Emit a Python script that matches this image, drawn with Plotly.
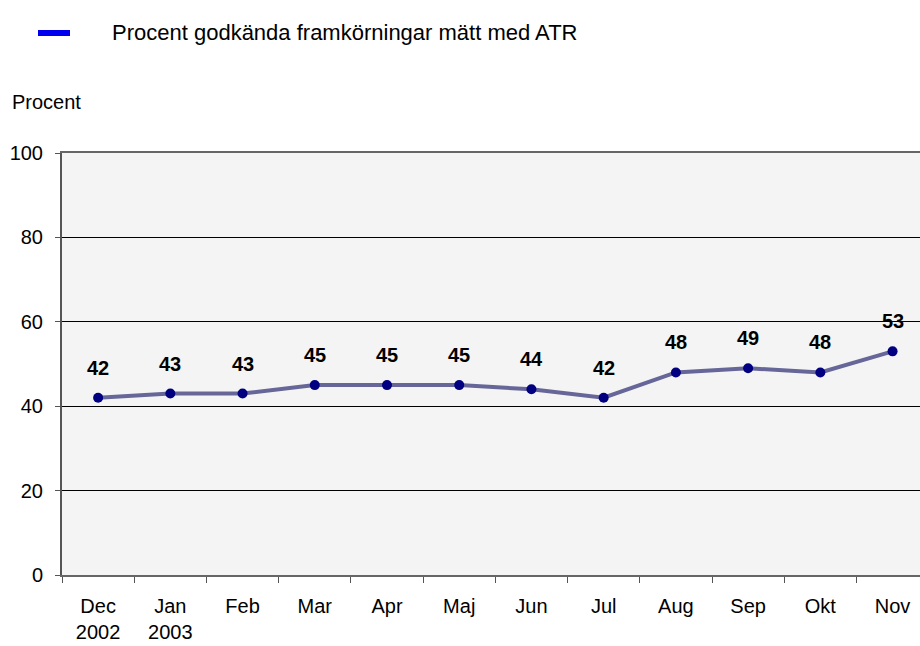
import plotly.graph_objects as go

months = ["Dec<br>2002", "Jan<br>2003", "Feb", "Mar", "Apr", "Maj", "Jun", "Jul", "Aug", "Sep", "Okt", "Nov"]
values = [42, 43, 43, 45, 45, 45, 44, 42, 48, 49, 48, 53]
series_name = "Procent godkända framkörningar mätt med ATR"
y_ticks = [0, 20, 40, 60, 80, 100]

FONT = "Liberation Sans, Arial, sans-serif"
W, H = 920, 646
ml, mr, mt, mb = 62, 0, 153, 71
pw = W - ml - mr
ph = H - mt - mb

def px_x(p):
    return (p - ml) / pw

def px_y(p):
    return (H - mb - p) / ph

fig = go.Figure()
fig.add_trace(go.Scatter(
    x=months, y=values, mode="lines+markers", name=series_name,
    line=dict(color="rgb(102,102,153)", width=4),
    marker=dict(color="#000080", size=10),
    showlegend=False, cliponaxis=False,
))

for m, v in zip(months, values):
    fig.add_annotation(x=m, y=v, text=str(v), showarrow=False, yshift=30,
                       font=dict(family=FONT, size=20, color="black", weight="bold"))

# legend (drawn manually)
fig.add_shape(type="line", xref="paper", yref="paper",
              x0=px_x(38), x1=px_x(70), y0=px_y(33), y1=px_y(33),
              line=dict(color="#0000ee", width=6))
fig.add_annotation(xref="paper", yref="paper", x=px_x(110), y=px_y(33),
                   xanchor="left", yanchor="middle", showarrow=False,
                   text=series_name, font=dict(family=FONT, size=22, color="black"))
# y-axis title
fig.add_annotation(xref="paper", yref="paper", x=px_x(10), y=px_y(102),
                   xanchor="left", yanchor="middle", showarrow=False,
                   text="Procent", font=dict(family=FONT, size=20, color="black"))

fig.update_layout(
    width=W, height=H,
    margin=dict(l=ml, r=mr, t=mt, b=mb),
    paper_bgcolor="white", plot_bgcolor="#f4f4f4",
    font=dict(family=FONT, size=20, color="black"),
    showlegend=False,
)
fig.update_xaxes(
    type="category", range=[-0.5, 11.38], tickson="boundaries",
    ticks="outside", ticklen=6, tickcolor="#555", tickwidth=1,
    showgrid=False, showline=True, linecolor="#666", linewidth=2, mirror=True,
    tickfont=dict(family=FONT, size=20), ticklabelstandoff=12,
)
fig.update_yaxes(
    range=[0, 100], tickvals=y_ticks, ticks="outside", ticklen=5,
    tickcolor="#555", showgrid=True, gridcolor="black", gridwidth=1,
    showline=True, linecolor="#555", linewidth=2, zeroline=False,
    tickfont=dict(family=FONT, size=20), ticklabelstandoff=8,
)

fig.write_html("out.html", config={"displayModeBar": False},
               post_script="document.body.style.margin='0';document.body.style.overflow='hidden';")
